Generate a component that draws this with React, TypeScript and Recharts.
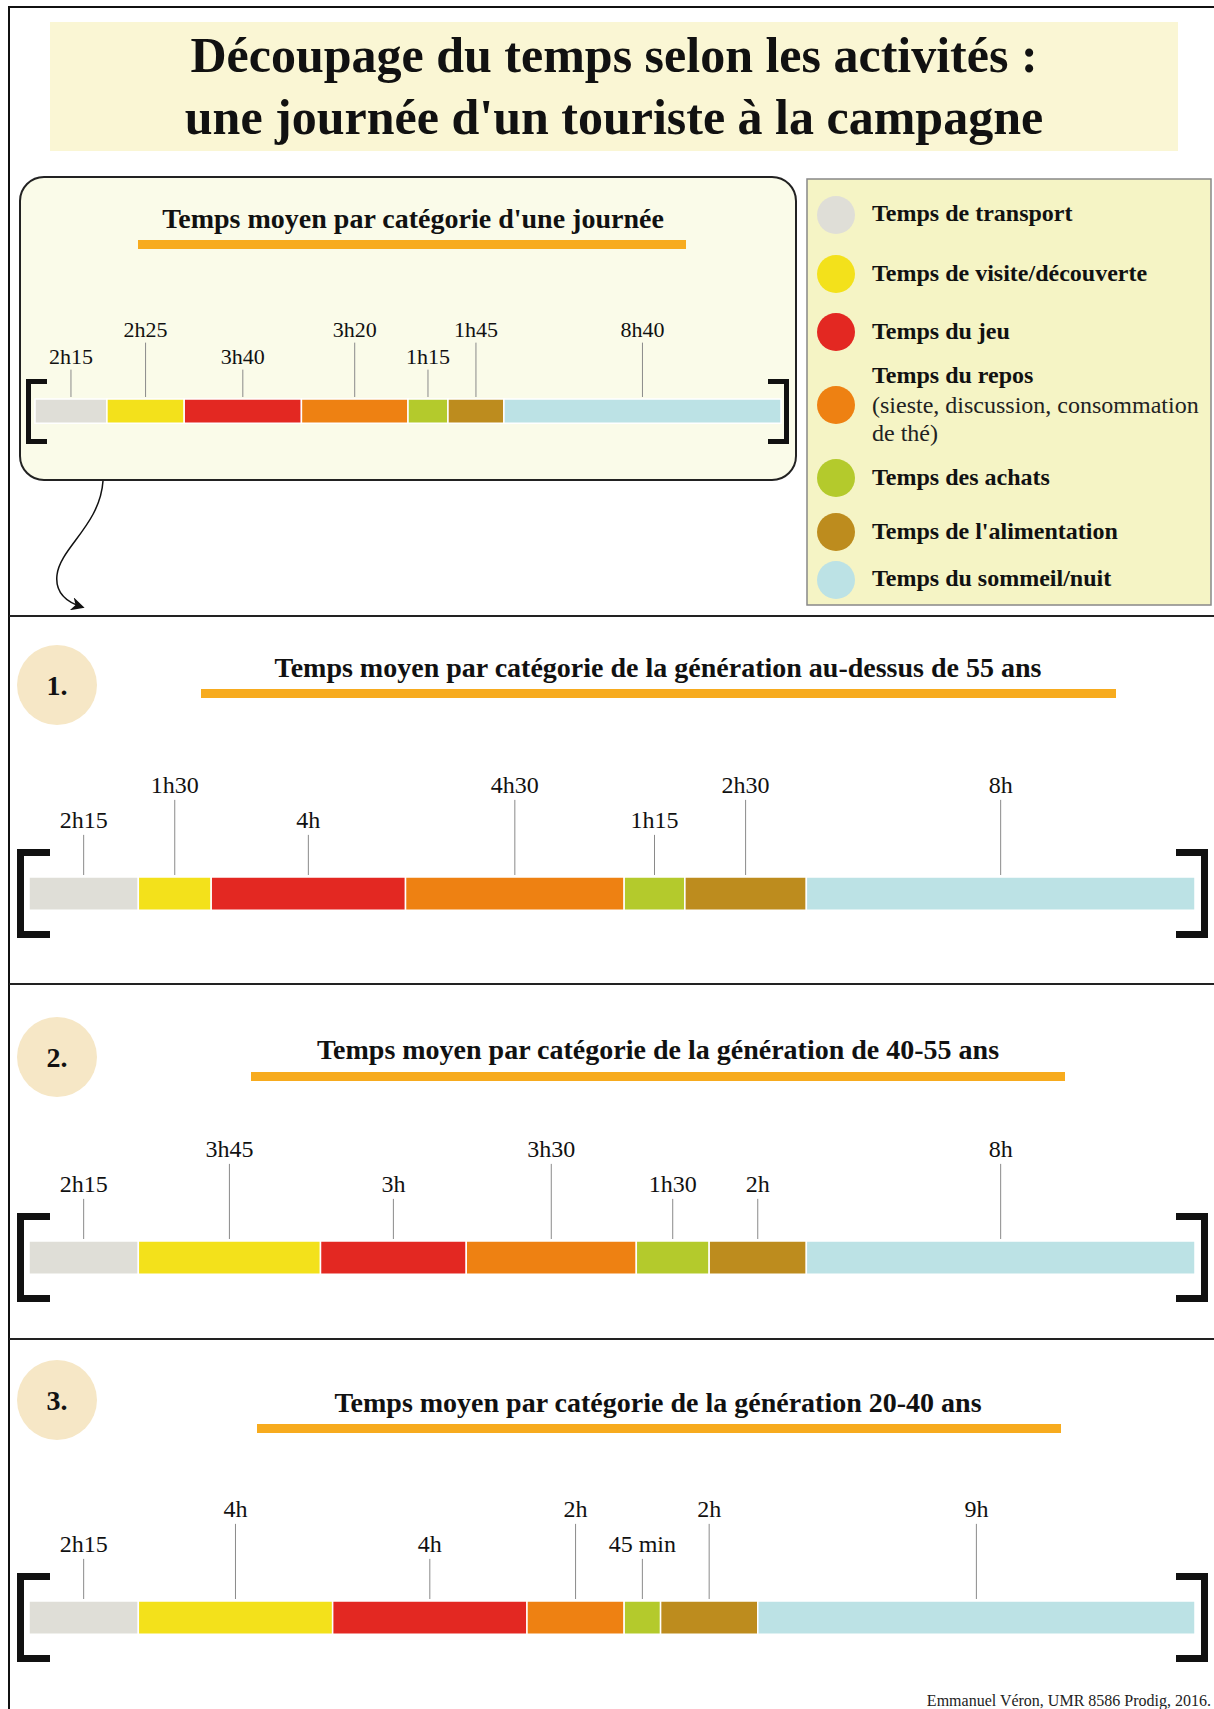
import React from 'react';
import { BarChart, Bar, XAxis, YAxis, LabelList } from 'recharts';

const FONT = '"Liberation Serif", "Times New Roman", Times, serif';

// Categories (legend) and colours
const categoryKeys = ['transport', 'visite', 'jeu', 'repos', 'achats', 'alimentation', 'sommeil'];
const categoryNames = [
  'Temps de transport',
  'Temps de visite/découverte',
  'Temps du jeu',
  'Temps du repos',
  'Temps des achats',
  "Temps de l'alimentation",
  'Temps du sommeil/nuit',
];
const categoryColors = ['#dfded7', '#f3e11b', '#e32822', '#ee8112', '#b4ca2c', '#bd8c1e', '#bce2e5'];

// Durations in minutes
const journeeValues = [135, 145, 220, 200, 75, 105, 520];
const gen55Values = [135, 90, 240, 270, 75, 150, 480];
const gen4055Values = [135, 225, 180, 210, 90, 120, 480];
const gen2040Values = [135, 240, 240, 120, 45, 120, 540];

// Label texts
const journeeLabels = ['2h15', '2h25', '3h40', '3h20', '1h15', '1h45', '8h40'];
const gen55Labels = ['2h15', '1h30', '4h', '4h30', '1h15', '2h30', '8h'];
const gen4055Labels = ['2h15', '3h45', '3h', '3h30', '1h30', '2h', '8h'];
const gen2040Labels = ['2h15', '4h', '4h', '2h', '45 min', '2h', '9h'];

// Label level (1 = high, 0 = low)
const journeeLevels = [0, 1, 0, 1, 0, 1, 1];
const gen55Levels = [0, 1, 0, 1, 0, 1, 1];
const gen4055Levels = [0, 1, 0, 1, 0, 0, 1];
const gen2040Levels = [0, 1, 0, 1, 0, 1, 1];

const sectionTitles = [
  'Temps moyen par catégorie de la génération au-dessus de 55 ans',
  'Temps moyen par catégorie de la génération de 40-55 ans',
  'Temps moyen par catégorie de la génération 20-40 ans',
];

type TimeBarProps = {
  values: number[];
  labels: string[];
  levels: number[];
  width: number;
  height: number;
  margin: { top: number; right: number; bottom: number; left: number };
  barSize: number;
  fontSize: number;
  highOffset: number;
  lowOffset: number;
};

function TimeBar(props: TimeBarProps) {
  const { values, labels, levels, width, height, margin, barSize, fontSize, highOffset, lowOffset } = props;
  const row: Record<string, any> = { name: 'jour' };
  categoryKeys.forEach((k, i) => {
    row[k] = values[i];
  });
  const total = values.reduce((a, b) => a + b, 0);

  const renderLabel = (p: any, i: number) => {
    const x = Number(p.x);
    const y = Number(p.y);
    const w = Number(p.width);
    const cx = x + w / 2;
    const ly = y - (levels[i] ? highOffset : lowOffset);
    return (
      <g>
        <line x1={cx} x2={cx} y1={ly + fontSize * 0.62} y2={y - 2} stroke="#8a8a8a" strokeWidth={1} />
        <text
          x={cx}
          y={ly}
          textAnchor="middle"
          dominantBaseline="central"
          fontFamily={FONT}
          fontSize={fontSize}
          fill="#111"
        >
          {labels[i]}
        </text>
      </g>
    );
  };

  return (
    <BarChart width={width} height={height} data={[row]} layout="vertical" margin={margin} barCategoryGap={0}>
      <XAxis type="number" hide domain={[0, total]} />
      <YAxis type="category" dataKey="name" hide />
      {categoryKeys.map((k, i) => (
        <Bar
          key={k}
          dataKey={k}
          stackId="s"
          fill={categoryColors[i]}
          stroke="#ffffff"
          strokeWidth={1.5}
          barSize={barSize}
          isAnimationActive={false}
        >
          <LabelList dataKey={k} content={(p: any) => renderLabel(p, i)} />
        </Bar>
      ))}
    </BarChart>
  );
}

function Bracket({ x, y, w, h, t, side }: { x: number; y: number; w: number; h: number; t: number; side: 'l' | 'r' }) {
  if (side === 'l') {
    return (
      <g fill="#111">
        <rect x={x} y={y} width={t} height={h} />
        <rect x={x} y={y} width={w} height={t} />
        <rect x={x} y={y + h - t} width={w} height={t} />
      </g>
    );
  }
  return (
    <g fill="#111">
      <rect x={x + w - t} y={y} width={t} height={h} />
      <rect x={x} y={y} width={w} height={t} />
      <rect x={x} y={y + h - t} width={w} height={t} />
    </g>
  );
}

export default function App() {
  const legendY = [215, 274, 332, 405, 478, 532, 580];
  const legendTextY = [213, 273, 331, 375, 477, 531, 578];
  const sections = [
    { values: gen55Values, labels: gen55Labels, levels: gen55Levels, barTop: 875, titleY: 667, lineX: [201, 1116], lineY: 689, badgeY: 685 },
    { values: gen4055Values, labels: gen4055Labels, levels: gen4055Levels, barTop: 1239, titleY: 1049, lineX: [251, 1065], lineY: 1072, badgeY: 1057 },
    { values: gen2040Values, labels: gen2040Labels, levels: gen2040Levels, barTop: 1599, titleY: 1402, lineX: [257, 1061], lineY: 1424, badgeY: 1400 },
  ];

  return (
    <div style={{ position: 'absolute', left: 0, top: 0, width: 1214, height: 1709, background: '#fff', overflow: 'hidden' }}>
      <svg width={1214} height={1709} style={{ position: 'absolute', left: 0, top: 0 }}>
        <defs>
          <marker id="arrowHead" viewBox="0 0 10 10" refX="8" refY="5" markerWidth="9" markerHeight="9" orient="auto">
            <path d="M0,0 L10,5 L0,10 L3,5 z" fill="#111" />
          </marker>
        </defs>
        {/* outer frame */}
        <line x1={9} y1={6} x2={9} y2={1709} stroke="#111" strokeWidth={2} />
        <line x1={8} y1={7} x2={1214} y2={7} stroke="#111" strokeWidth={2} />
        {/* separators */}
        {[616, 984, 1339].map((y) => (
          <line key={y} x1={9} y1={y} x2={1214} y2={y} stroke="#222" strokeWidth={2.2} />
        ))}

        {/* title */}
        <rect x={50} y={22} width={1128} height={129} fill="#faf6d4" />
        <text x={614} y={55} textAnchor="middle" dominantBaseline="central" fontFamily={FONT} fontWeight="bold" fontSize={50} fill="#111">
          Découpage du temps selon les activités :
        </text>
        <text x={614} y={117} textAnchor="middle" dominantBaseline="central" fontFamily={FONT} fontWeight="bold" fontSize={50} fill="#111">
          une journée d'un touriste à la campagne
        </text>

        {/* top chart box */}
        <rect x={20} y={177} width={776} height={303} rx={24} ry={24} fill="#fafbe9" stroke="#222" strokeWidth={2} />
        <text x={413} y={218} textAnchor="middle" dominantBaseline="central" fontFamily={FONT} fontWeight="bold" fontSize={28} fill="#111">
          Temps moyen par catégorie d'une journée
        </text>
        <rect x={138} y={240} width={548} height={9} fill="#f7ab1e" />
        <Bracket x={26} y={379} w={21} h={65} t={5} side="l" />
        <Bracket x={768} y={379} w={21} h={65} t={5} side="r" />

        {/* arrow */}
        <path
          d="M 103 481 C 100 525, 60 548, 57 575 C 55 592, 66 602, 82 607"
          fill="none"
          stroke="#111"
          strokeWidth={1.5}
          markerEnd="url(#arrowHead)"
        />

        {/* legend */}
        <rect x={807} y={179} width={404} height={426} fill="#f5f4c5" stroke="#888" strokeWidth={1.5} />
        {categoryNames.map((name, i) => (
          <g key={name}>
            <circle cx={836} cy={legendY[i]} r={19} fill={categoryColors[i]} />
            <text x={872} y={legendTextY[i]} dominantBaseline="central" fontFamily={FONT} fontWeight="bold" fontSize={24} fill="#111">
              {name}
            </text>
          </g>
        ))}
        <text x={872} y={405} dominantBaseline="central" fontFamily={FONT} fontSize={24} fill="#222">
          (sieste, discussion, consommation
        </text>
        <text x={872} y={433} dominantBaseline="central" fontFamily={FONT} fontSize={24} fill="#222">
          de thé)
        </text>

        {/* sections */}
        {sections.map((s, i) => (
          <g key={i}>
            <circle cx={57} cy={s.badgeY} r={40} fill="#f6e7c6" />
            <text x={57} y={s.badgeY} textAnchor="middle" dominantBaseline="central" fontFamily={FONT} fontWeight="bold" fontSize={28} fill="#111">
              {`${i + 1}.`}
            </text>
            <text x={658} y={s.titleY} textAnchor="middle" dominantBaseline="central" fontFamily={FONT} fontWeight="bold" fontSize={28} fill="#111">
              {sectionTitles[i]}
            </text>
            <rect x={s.lineX[0]} y={s.lineY} width={s.lineX[1] - s.lineX[0]} height={9} fill="#f7ab1e" />
            <Bracket x={17} y={s.barTop - 26} w={33} h={89} t={7} side="l" />
            <Bracket x={1176} y={s.barTop - 26} w={32} h={89} t={7} side="r" />
          </g>
        ))}

        <text x={1211} y={1700} textAnchor="end" dominantBaseline="central" fontFamily={FONT} fontSize={16} fill="#222">
          Emmanuel Véron, UMR 8586 Prodig, 2016.
        </text>
      </svg>

      <div style={{ position: 'absolute', left: 0, top: 280 }}>
        <TimeBar
          values={journeeValues}
          labels={journeeLabels}
          levels={journeeLevels}
          width={800}
          height={160}
          margin={{ top: 118, right: 19, bottom: 15, left: 35 }}
          barSize={27}
          fontSize={22}
          highOffset={70}
          lowOffset={43}
        />
      </div>

      {sections.map((s, i) => (
        <div key={i} style={{ position: 'absolute', left: 0, top: s.barTop - 125 }}>
          <TimeBar
            values={s.values}
            labels={s.labels}
            levels={s.levels}
            width={1214}
            height={175}
            margin={{ top: 125, right: 19, bottom: 13, left: 29 }}
            barSize={37}
            fontSize={24}
            highOffset={92}
            lowOffset={57}
          />
        </div>
      ))}
    </div>
  );
}
